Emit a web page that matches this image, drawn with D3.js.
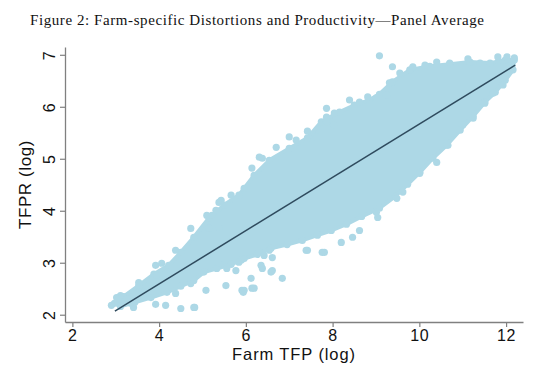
<!DOCTYPE html>
<html>
<head>
<meta charset="utf-8">
<script src="https://cdn.jsdelivr.net/npm/d3@7"></script>
<style>
  html, body { margin: 0; padding: 0; background: #fff; }
  svg { display: block; }
</style>
</head>
<body>
<div id="chart"></div>
<script>
// Outline of the dense part of the cloud (Farm TFP, TFPR)
const coreX = [2.97, 3.18, 3.53, 3.88, 4.22, 4.50, 4.80, 5.15, 5.50, 5.84, 6.19, 6.54, 7.00, 7.42, 7.74,
  8.16, 8.50, 8.85, 9.08, 9.38, 9.78, 10.24, 10.70, 11.17, 11.63, 11.98, 12.19,
  12.16, 11.98, 11.75, 11.51, 11.24, 10.94, 10.63, 10.31, 10.01, 9.73, 9.45, 9.08, 8.67, 8.32,
  7.97, 7.65, 7.30, 6.95, 6.58, 6.26, 5.96, 5.66, 5.33, 5.03, 4.80, 4.50, 4.18, 3.81, 3.44, 3.11];
const coreY = [2.22, 2.35, 2.56, 2.78, 2.95, 3.20, 3.49, 3.86, 4.11, 4.30, 4.68, 4.97, 5.20, 5.40, 5.71,
  5.90, 6.03, 6.13, 6.24, 6.48, 6.71, 6.78, 6.82, 6.86, 6.84, 6.90, 6.90,
  6.71, 6.51, 6.28, 6.09, 5.82, 5.55, 5.26, 5.01, 4.74, 4.51, 4.28, 4.05, 3.89, 3.74,
  3.62, 3.53, 3.43, 3.35, 3.28, 3.16, 3.08, 2.97, 2.89, 2.82, 2.66, 2.55, 2.43, 2.33, 2.24, 2.16];

// Scattered farms around the edge of the cloud
const dotX = [4.50, 4.82, 3.92, 4.15, 3.41, 3.34, 3.02, 2.90, 3.11, 3.92, 4.73, 3.83, 5.08, 5.54, 5.91,
  6.14, 5.10, 5.31, 5.38, 6.12, 5.77, 5.56, 4.73, 4.38, 3.64, 3.94, 3.53, 4.06, 4.38, 3.30, 3.06,
  6.84, 6.61, 6.38, 6.19, 5.96, 4.80, 5.89, 5.38, 6.31, 6.54, 7.39, 7.76, 8.20, 8.46, 8.62,
  5.66, 5.43, 5.22, 5.15, 5.38, 7.00, 6.70, 6.31, 6.14, 5.96, 9.01, 9.04, 9.48, 9.62,
  7.81, 7.42, 6.58, 5.94, 5.84, 6.35, 6.42, 6.61,
  9.08, 8.39, 8.62, 8.81, 9.01, 7.86, 8.04, 7.86, 7.42, 7.63, 7.16, 6.38, 7.86, 8.04,
  9.38, 9.85, 10.13, 10.40, 10.70, 11.12, 11.40, 11.81, 12.02, 12.19, 9.55, 9.25, 9.31,
  11.93, 11.70, 11.51, 11.24, 11.00, 10.66, 10.40, 10.01];
const dotY = [2.12, 2.14, 2.20, 2.18, 2.14, 2.22, 2.33, 2.18, 2.37, 2.95, 3.66, 2.66, 2.47, 2.56, 2.47,
  2.51, 3.91, 4.01, 4.16, 2.70, 2.85, 2.89, 2.60, 2.41, 2.43, 2.76, 2.62, 2.99, 3.24, 2.31, 2.31,
  2.70, 2.85, 2.89, 2.51, 2.47, 2.14, 3.05, 2.99, 3.20, 3.24, 3.24, 3.20, 3.39, 3.49, 3.62,
  4.30, 4.20, 3.91, 3.66, 3.68, 5.42, 5.22, 5.03, 4.82, 4.43, 3.97, 3.87, 4.24, 4.36,
  3.20, 3.24, 2.82, 2.43, 3.01, 2.95, 3.14, 3.10,
  6.98, 6.13, 6.09, 6.19, 6.17, 5.97, 5.88, 5.80, 5.53, 5.42, 5.36, 5.01, 5.71, 5.65,
  6.77, 6.77, 6.80, 6.86, 6.84, 6.92, 6.84, 6.96, 6.96, 6.94, 6.65, 6.23, 6.46,
  6.42, 6.26, 6.07, 5.78, 5.65, 5.26, 4.93, 4.72];

// Fitted line end points
const fitX = [2.98, 12.21];
const fitY = [2.07, 6.80];

const xTicks = [2, 4, 6, 8, 10, 12];
const yTicks = [2, 3, 4, 5, 6, 7];

const W = 549, H = 370;
const plot = { left: 65, right: 523, top: 47, bottom: 322 };
const DOT = '#add8e6';
const AXIS = '#808080';
const R = 3.6;

const x = d3.scaleLinear().domain([1.83, 12.39]).range([plot.left, plot.right]);
const y = d3.scaleLinear().domain([1.86, 7.15]).range([plot.bottom, plot.top]);

const svg = d3.select('#chart').append('svg')
  .attr('width', W).attr('height', H)
  .attr('viewBox', `0 0 ${W} ${H}`);

// Title
svg.append('text')
  .attr('x', 257).attr('y', 25)
  .attr('text-anchor', 'middle')
  .attr('textLength', 454)
  .attr('lengthAdjust', 'spacing')
  .style('font-family', '"Liberation Serif", "DejaVu Serif", serif')
  .style('font-size', '15px')
  .style('fill', '#111')
  .text('Figure 2: Farm-specific Distortions and Productivity\u2014Panel Average');

// Dense part of the cloud
const core = coreX.map((v, i) => [v, coreY[i]]);
svg.append('path')
  .datum(core)
  .attr('d', d3.line().x(d => x(d[0])).y(d => y(d[1])).curve(d3.curveLinearClosed))
  .attr('fill', DOT)
  .attr('stroke', DOT)
  .attr('stroke-width', 4)
  .attr('stroke-linejoin', 'round');

// Points: the edge farms of the dense part plus the scattered ones
const pts = core.concat(dotX.map((v, i) => [v, dotY[i]]));
svg.append('g')
  .selectAll('circle')
  .data(pts)
  .join('circle')
  .attr('cx', d => x(d[0]))
  .attr('cy', d => y(d[1]))
  .attr('r', R)
  .attr('fill', DOT);

// Fitted line
svg.append('path')
  .datum(fitX.map((v, i) => [v, fitY[i]]))
  .attr('d', d3.line().x(d => x(d[0])).y(d => y(d[1])))
  .attr('fill', 'none')
  .attr('stroke', '#2f4b5e')
  .attr('stroke-width', 1.5);

// Axes
const font = '"Liberation Sans", Arial, sans-serif';

const gx = svg.append('g')
  .attr('transform', `translate(0,${plot.bottom})`)
  .call(d3.axisBottom(x).tickValues(xTicks).tickSize(5).tickSizeOuter(0).tickFormat(d3.format('d')));

const gy = svg.append('g')
  .attr('transform', `translate(${plot.left},0)`)
  .call(d3.axisLeft(y).tickValues(yTicks).tickSize(5).tickSizeOuter(0).tickFormat(d3.format('d')));

[gx, gy].forEach(g => {
  g.select('.domain').attr('stroke', AXIS).attr('stroke-width', 1.3);
  g.selectAll('.tick line').attr('stroke', AXIS).attr('stroke-width', 1.2);
  g.selectAll('.tick text')
    .attr('fill', '#111')
    .style('font-family', font)
    .style('font-size', '16px')
    .style('letter-spacing', '0.8px');
});

// y tick labels rotated, Stata style
gy.selectAll('.tick text')
  .attr('text-anchor', 'middle')
  .attr('transform', 'rotate(-90)')
  .attr('x', 0)
  .attr('y', -10)
  .attr('dy', 0);

gx.selectAll('.tick text').attr('dy', '0.66em');

// Axis titles
svg.append('text')
  .attr('x', (plot.left + plot.right) / 2).attr('y', 360)
  .attr('text-anchor', 'middle')
  .style('font-family', font).style('font-size', '16.5px').style('letter-spacing', '0.9px').style('fill', '#111')
  .text('Farm TFP (log)');

svg.append('text')
  .attr('transform', `translate(31,${(plot.top + plot.bottom) / 2}) rotate(-90)`)
  .attr('text-anchor', 'middle')
  .style('font-family', font).style('font-size', '17px').style('letter-spacing', '0.6px').style('fill', '#111')
  .text('TFPR (log)');
</script>
</body>
</html>
